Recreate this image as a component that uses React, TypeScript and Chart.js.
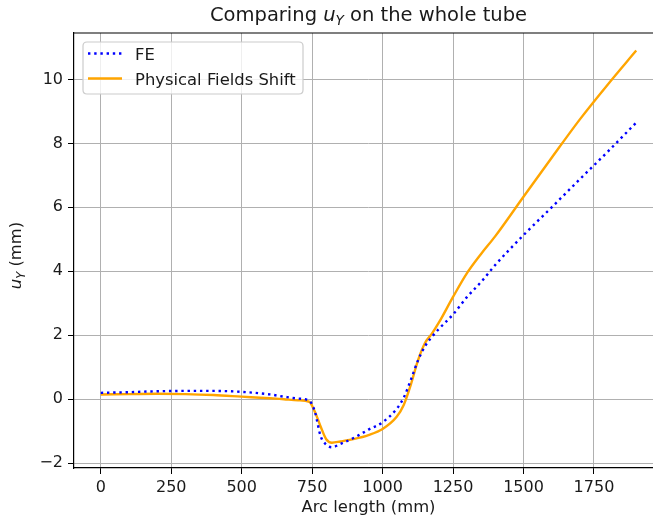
import React, { useEffect, useRef } from 'react';
import { Chart, registerables } from 'chart.js';

Chart.register(...registerables);

// ---- Data ----
const arcLength = [0, 100, 200, 300, 400, 500, 600, 650, 700, 740, 760, 780, 800, 820, 850, 900, 950, 1000, 1050, 1075, 1100, 1125, 1150, 1175, 1200, 1250, 1300, 1350, 1400, 1500, 1600, 1700, 1800, 1900];
const feValues = [0.2, 0.22, 0.25, 0.26, 0.26, 0.23, 0.15, 0.08, 0.02, -0.05, -0.4, -1.15, -1.42, -1.5, -1.4, -1.2, -0.95, -0.72, -0.3, 0.05, 0.6, 1.2, 1.65, 1.95, 2.2, 2.65, 3.2, 3.67, 4.2, 5.13, 6.0, 6.88, 7.75, 8.65];
const shiftValues = [0.15, 0.16, 0.17, 0.16, 0.13, 0.08, 0.03, 0.0, -0.03, -0.08, -0.4, -0.85, -1.25, -1.36, -1.32, -1.24, -1.12, -0.93, -0.55, -0.18, 0.45, 1.2, 1.75, 2.05, 2.4, 3.2, 3.95, 4.55, 5.1, 6.33, 7.55, 8.75, 9.85, 10.9];
const seriesLabels = ['FE', 'Physical Fields Shift'];
const xLabel = 'Arc length (mm)';
const xTickStep = 250;
const yTickStep = 2;

const FONT = '"DejaVu Sans", sans-serif';
const BLUE = '#0000ff';
const ORANGE = '#ffa500';

type Seg = { text: string; italic?: boolean; sub?: boolean };

function drawRich(ctx: CanvasRenderingContext2D, segs: Seg[], size: number, cx: number, baseline: number) {
  const fontFor = (s: Seg) => `${s.italic ? 'italic ' : ''}${s.sub ? size * 0.7 : size}px ${FONT}`;
  let total = 0;
  const widths = segs.map((s) => {
    ctx.font = fontFor(s);
    const w = ctx.measureText(s.text).width;
    total += w;
    return w;
  });
  let x = cx - total / 2;
  ctx.textAlign = 'left';
  ctx.textBaseline = 'alphabetic';
  segs.forEach((s, i) => {
    ctx.font = fontFor(s);
    ctx.fillText(s.text, x, baseline + (s.sub ? size * 0.22 : 0));
    x += widths[i];
  });
}

const decorPlugin = {
  id: 'decor',
  afterDraw(chart: any) {
    const { ctx, chartArea: a } = chart;
    ctx.save();
    // top & right spines
    ctx.strokeStyle = '#000';
    ctx.lineWidth = 1.2;
    ctx.beginPath();
    ctx.moveTo(a.left, a.top);
    ctx.lineTo(a.right, a.top);
    ctx.lineTo(a.right, a.bottom);
    ctx.stroke();

    ctx.fillStyle = '#1a1a1a';
    const cx = (a.left + a.right) / 2;
    // title
    drawRich(ctx, [
      { text: 'Comparing ' },
      { text: 'u', italic: true },
      { text: 'Y', italic: true, sub: true },
      { text: ' on the whole tube' },
    ], 19.5, cx, 21);

    // x label
    drawRich(ctx, [{ text: xLabel }], 16.4, cx, 512);

    // y label (rotated)
    ctx.save();
    ctx.translate(21, (a.top + a.bottom) / 2 + 5);
    ctx.rotate(-Math.PI / 2);
    drawRich(ctx, [
      { text: 'u', italic: true },
      { text: 'Y', italic: true, sub: true },
      { text: ' (mm)' },
    ], 16.4, 0, 0);
    ctx.restore();

    // legend
    const lx = 83, ly = 42, lw = 220, lh = 52, r = 4;
    ctx.beginPath();
    ctx.moveTo(lx + r, ly);
    ctx.lineTo(lx + lw - r, ly);
    ctx.quadraticCurveTo(lx + lw, ly, lx + lw, ly + r);
    ctx.lineTo(lx + lw, ly + lh - r);
    ctx.quadraticCurveTo(lx + lw, ly + lh, lx + lw - r, ly + lh);
    ctx.lineTo(lx + r, ly + lh);
    ctx.quadraticCurveTo(lx, ly + lh, lx, ly + lh - r);
    ctx.lineTo(lx, ly + r);
    ctx.quadraticCurveTo(lx, ly, lx + r, ly);
    ctx.closePath();
    ctx.fillStyle = 'rgba(255,255,255,0.8)';
    ctx.fill();
    ctx.strokeStyle = '#cccccc';
    ctx.lineWidth = 1.2;
    ctx.stroke();

    // legend samples
    ctx.lineWidth = 2.4;
    ctx.strokeStyle = BLUE;
    ctx.setLineDash([2.4, 3.8]);
    ctx.beginPath();
    ctx.moveTo(88, 53.5);
    ctx.lineTo(122, 53.5);
    ctx.stroke();
    ctx.setLineDash([]);
    ctx.strokeStyle = ORANGE;
    ctx.beginPath();
    ctx.moveTo(88, 78.5);
    ctx.lineTo(122, 78.5);
    ctx.stroke();

    ctx.fillStyle = '#1a1a1a';
    ctx.font = `16.4px ${FONT}`;
    ctx.textAlign = 'left';
    ctx.textBaseline = 'alphabetic';
    ctx.fillText(seriesLabels[0], 135, 59.5);
    ctx.fillText(seriesLabels[1], 135, 84.5);
    ctx.restore();
  },
};

const fmt = (v: number) => {
  const r = Math.round(v);
  return r < 0 ? '\u2212' + Math.abs(r) : String(r);
};

export default function App() {
  const ref = useRef<HTMLCanvasElement | null>(null);

  useEffect(() => {
    if (!ref.current) return;
    const chart = new Chart(ref.current, {
      type: 'line',
      data: {
        datasets: [
          {
            label: seriesLabels[0],
            data: arcLength.map((x, i) => ({ x, y: feValues[i] })),
            borderColor: BLUE,
            borderWidth: 2.4,
            borderDash: [2.4, 3.8],
            pointRadius: 0,
            fill: false,
            cubicInterpolationMode: 'monotone',
          },
          {
            label: seriesLabels[1],
            data: arcLength.map((x, i) => ({ x, y: shiftValues[i] })),
            borderColor: ORANGE,
            borderWidth: 2.4,
            pointRadius: 0,
            fill: false,
            cubicInterpolationMode: 'monotone',
          },
        ],
      },
      options: {
        responsive: false,
        animation: false,
        devicePixelRatio: 1,
        layout: { padding: { left: 0, top: 33, right: 17, bottom: 0 } },
        plugins: {
          legend: { display: false },
          title: { display: false },
          tooltip: { enabled: false },
        },
        scales: {
          x: {
            type: 'linear',
            min: -95,
            max: 1995,
            afterFit: (s: any) => { s.height = 51; },
            border: { color: '#000', width: 1.2 },
            grid: { color: '#b0b0b0', lineWidth: 1, tickColor: '#000', tickLength: 6 },
            ticks: {
              stepSize: xTickStep,
              includeBounds: false,
              color: '#1a1a1a',
              font: { family: FONT, size: 16 },
              padding: 4,
              maxRotation: 0,
              autoSkip: false,
              callback: (v: any) => fmt(Number(v)),
            },
          },
          y: {
            type: 'linear',
            min: -2.15,
            max: 11.45,
            afterFit: (s: any) => { s.width = 74; },
            border: { color: '#000', width: 1.2 },
            grid: { color: '#b0b0b0', lineWidth: 1, tickColor: '#000', tickLength: 6 },
            ticks: {
              stepSize: yTickStep,
              includeBounds: false,
              color: '#1a1a1a',
              font: { family: FONT, size: 16 },
              padding: 5,
              autoSkip: false,
              callback: (v: any) => fmt(Number(v)),
            },
          },
        },
      },
      plugins: [decorPlugin],
    } as any);
    return () => chart.destroy();
  }, []);

  return (
    <div style={{ position: 'fixed', left: 0, top: 0, width: 653, height: 519, overflow: 'hidden', background: '#fff' }}>
      <canvas ref={ref} width={680} height={519} style={{ display: 'block', width: 680, height: 519 }} />
    </div>
  );
}
